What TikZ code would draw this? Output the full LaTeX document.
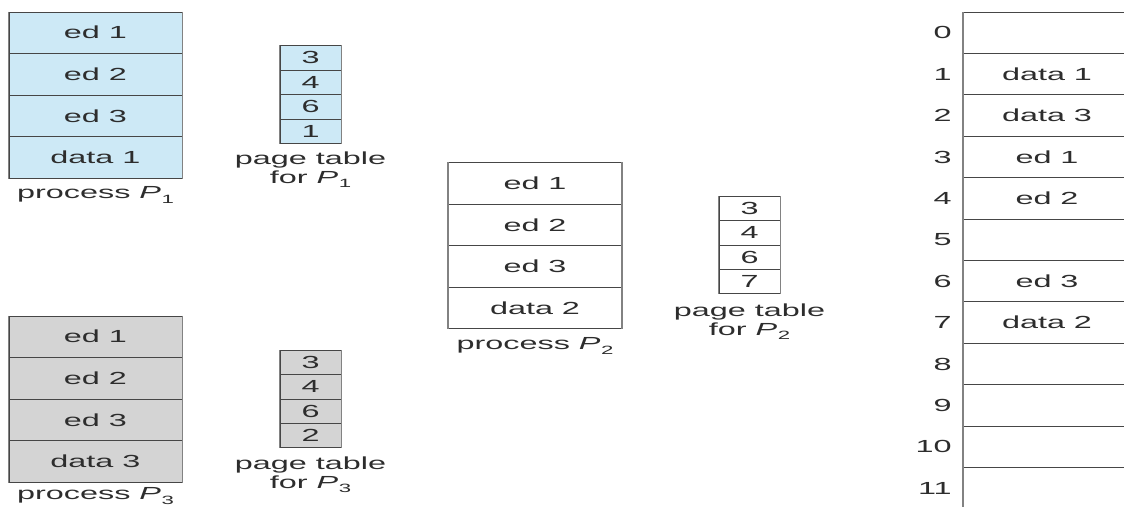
\documentclass[tikz,border=0pt]{standalone}
\usepackage{fontspec}
\setmainfont{Liberation Sans}[FakeStretch=1.85]
\definecolor{pblue}{RGB}{205,233,246}
\definecolor{pgray}{RGB}{212,212,212}
\definecolor{ink}{RGB}{45,45,45}
\definecolor{edge}{RGB}{70,70,70}
\definecolor{sidec}{RGB}{130,130,130}
\newcommand{\Pn}[1]{\textit{P}\kern0.5pt\raisebox{-0.5ex}{\fontsize{12}{13}\selectfont #1}}
\begin{document}
\begin{tikzpicture}[x=1pt,y=-1pt,
  every node/.style={font=\fontsize{17.5}{18.5}\selectfont, text=ink},
  seg/.style={draw=edge, line width=0.7pt, minimum width=173pt, minimum height=41.6pt, inner sep=0pt, anchor=north},
  pte/.style={draw=edge, line width=0.7pt, minimum width=61pt, minimum height=24.5pt, inner sep=0pt, anchor=north},
  frame/.style={minimum width=168pt, minimum height=41.4pt, inner sep=0pt, anchor=north},
  fnum/.style={anchor=east, inner sep=0pt},
  side/.style={draw=sidec, line width=1.6pt},
  mline/.style={draw=edge, line width=0.7pt},
  lbl/.style={align=center, inner sep=0pt}]
\useasboundingbox (0,0) rectangle (1124,506);
% process P1
\foreach \i/\t in {0/ed 1,1/ed 2,2/ed 3,3/data 1}
  \node[seg, fill=pblue] (pa\i) at (95.5, 11.5+41.6*\i) {\t};
\draw[side] (pa0.north west) -- (pa3.south west);
\draw[side] (pa0.north east) -- (pa3.south east);
\node[lbl] (pal) at (95.5,195) {process \Pn{1}};
\foreach \i/\t in {0/3,1/4,2/6,3/1}
  \node[pte, fill=pblue] (ta\i) at (310.5, 45+24.5*\i) {\t};
\draw[side] (ta0.north west) -- (ta3.south west);
\draw[side] (ta0.north east) -- (ta3.south east);
\node[lbl] (tal) at (310.5,170) {page table\\for \Pn{1}};
% process P3
\foreach \i/\t in {0/ed 1,1/ed 2,2/ed 3,3/data 3}
  \node[seg, fill=pgray] (pc\i) at (95.5, 315.5+41.6*\i) {\t};
\draw[side] (pc0.north west) -- (pc3.south west);
\draw[side] (pc0.north east) -- (pc3.south east);
\node[lbl] (pcl) at (95.5,496) {process \Pn{3}};
\foreach \i/\t in {0/3,1/4,2/6,3/2}
  \node[pte, fill=pgray] (tc\i) at (310.5, 350+24.3*\i) {\t};
\draw[side] (tc0.north west) -- (tc3.south west);
\draw[side] (tc0.north east) -- (tc3.south east);
\node[lbl] (tcl) at (310.5,475) {page table\\for \Pn{3}};
% process P2
\foreach \i/\t in {0/ed 1,1/ed 2,2/ed 3,3/data 2}
  \node[seg, fill=white] (pb\i) at (535, 162+41.6*\i) {\t};
\draw[side] (pb0.north west) -- (pb3.south west);
\draw[side] (pb0.north east) -- (pb3.south east);
\node[lbl] (pbl) at (535,346) {process \Pn{2}};
\foreach \i/\t in {0/3,1/4,2/6,3/7}
  \node[pte, fill=white] (tb\i) at (749.5, 196+24.3*\i) {\t};
\draw[side] (tb0.north west) -- (tb3.south west);
\draw[side] (tb0.north east) -- (tb3.south east);
\node[lbl] (tbl) at (749.5,322) {page table\\for \Pn{2}};
% physical memory
\foreach \i/\t in {0/,1/data 1,2/data 3,3/ed 1,4/ed 2,5/,6/ed 3,7/data 2,8/,9/,10/,11/}{
  \node[frame] (m\i) at (1047, 12+41.4*\i) {\t};
  \node[fnum] (n\i) at ([xshift=-11pt]m\i.west) {\i};
  \draw[mline] (m\i.north west) -- (m\i.north east);
}
\draw[side] (m0.north west) -- (m11.south west);
\end{tikzpicture}
\end{document}
